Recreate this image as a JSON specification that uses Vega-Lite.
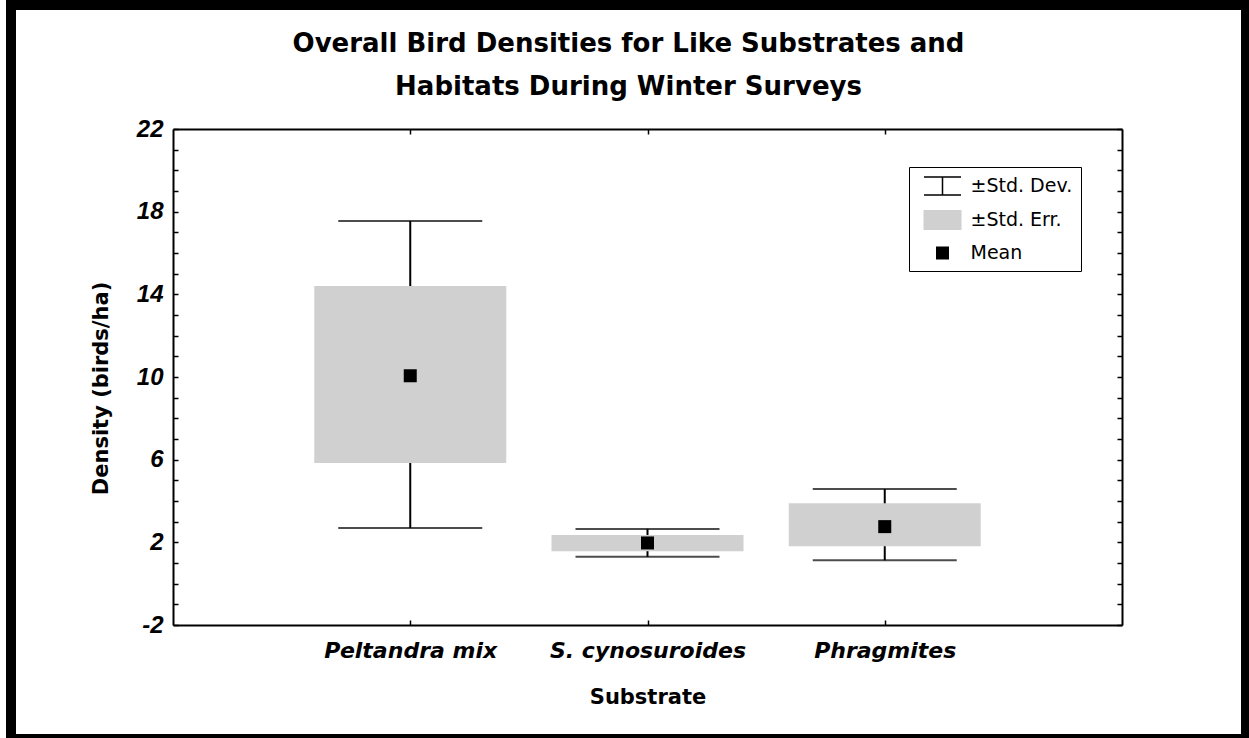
{
  "$schema": "https://vega.github.io/schema/vega-lite/v6.json",
  "width": 1235,
  "height": 734,
  "autosize": {"type": "none"},
  "padding": {"left": 11, "top": 5, "right": 3, "bottom": 0},
  "background": "white",
  "config": {
    "view": {"stroke": "black", "strokeWidth": 10, "fill": "white"},
    "font": "DejaVu Sans"
  },
  "title": {
    "text": ["Overall Bird Densities for Like Substrates and", "Habitats During Winter Surveys"],
    "font": "DejaVu Sans",
    "fontSize": 26,
    "fontWeight": "bold",
    "lineHeight": 43,
    "anchor": "middle",
    "frame": "group",
    "offset": -95,
    "color": "black"
  },
  "data": {
    "values": [
      {"substrate": "Peltandra mix", "mean": 10.06, "seLow": 5.84, "seHigh": 14.40, "sdLow": 2.69, "sdHigh": 17.55},
      {"substrate": "S. cynosuroides", "mean": 1.97, "seLow": 1.57, "seHigh": 2.36, "sdLow": 1.30, "sdHigh": 2.65},
      {"substrate": "Phragmites", "mean": 2.76, "seLow": 1.81, "seHigh": 3.89, "sdLow": 1.13, "sdHigh": 4.58}
    ]
  },
  "layer": [
    {
      "mark": {"type": "rule", "stroke": "black", "strokeWidth": 2},
      "encoding": {
        "x": {
          "field": "substrate", "type": "nominal", "sort": null,
          "scale": {"type": "point", "range": [162, 1111], "padding": 1},
          "axis": {
            "orient": "bottom", "offset": -114, "tickSize": -5, "tickColor": "black", "tickWidth": 1.5,
            "domainColor": "black", "domainWidth": 2, "labelAngle": 0, "labelLimit": 400,
            "labelFont": "DejaVu Sans", "labelFontSize": 22, "labelFontWeight": "bold", "labelFontStyle": "italic",
            "labelColor": "black", "labelPadding": 20,
            "title": "Substrate", "titleFont": "DejaVu Sans", "titleFontSize": 21, "titleFontWeight": "bold",
            "titleColor": "black", "titlePadding": 25, "grid": false
          }
        },
        "y": {
          "field": "sdLow", "type": "quantitative",
          "scale": {"domain": [-2, 22], "range": [620, 124], "nice": false, "zero": false},
          "axis": {
            "orient": "left", "offset": -162,
            "values": [-2, -1, 0, 1, 2, 3, 4, 5, 6, 7, 8, 9, 10, 11, 12, 13, 14, 15, 16, 17, 18, 19, 20, 21, 22],
            "labelExpr": "(datum.value + 2) % 4 == 0 ? '' + datum.value : ''",
            "tickSize": -5, "tickColor": "black", "tickWidth": 1.5,
            "domainColor": "black", "domainWidth": 2,
            "labelFont": "Liberation Sans", "labelFontSize": 24, "labelFontWeight": "bold", "labelFontStyle": "italic",
            "labelColor": "black", "labelPadding": 15, "labelOverlap": false,
            "title": "Density (birds/ha)", "titleFont": "DejaVu Sans", "titleFontSize": 21, "titleFontWeight": "bold",
            "titleColor": "black", "titleX": -62, "titleY": 383, "titleAngle": -90, "titleBaseline": "bottom", "titleAlign": "center", "grid": false
          }
        },
        "y2": {"field": "sdHigh"}
      }
    },
    {
      "mark": {"type": "bar", "color": "#d0d0d0", "width": 192},
      "encoding": {
        "x": {"field": "substrate", "type": "nominal", "sort": null, "axis": null},
        "y": {"field": "seLow", "type": "quantitative", "axis": null},
        "y2": {"field": "seHigh"}
      }
    },
    {
      "mark": {"type": "tick", "color": "black", "size": 144, "thickness": 2, "orient": "horizontal"},
      "encoding": {
        "x": {
          "field": "substrate", "type": "nominal", "sort": null,
          "axis": {"orient": "top", "offset": -124, "labels": false, "title": null, "tickSize": -5,
                   "tickColor": "black", "tickWidth": 1.5, "domainColor": "black", "domainWidth": 2, "grid": false}
        },
        "y": {
          "field": "sdLow", "type": "quantitative",
          "axis": {"orient": "right", "offset": -124, "labels": false, "title": null,
                   "values": [-2, -1, 0, 1, 2, 3, 4, 5, 6, 7, 8, 9, 10, 11, 12, 13, 14, 15, 16, 17, 18, 19, 20, 21, 22],
                   "tickSize": -5, "tickColor": "black", "tickWidth": 1.5, "domainColor": "black", "domainWidth": 2, "grid": false}
        }
      }
    },
    {
      "mark": {"type": "tick", "color": "black", "size": 144, "thickness": 2, "orient": "horizontal"},
      "encoding": {
        "x": {"field": "substrate", "type": "nominal", "sort": null, "axis": null},
        "y": {"field": "sdHigh", "type": "quantitative", "axis": null}
      }
    },
    {
      "mark": {"type": "point", "shape": "square", "filled": true, "color": "black", "size": 169, "opacity": 1},
      "encoding": {
        "x": {"field": "substrate", "type": "nominal", "sort": null, "axis": null},
        "y": {"field": "mean", "type": "quantitative", "axis": null}
      }
    },
    {
      "data": {"values": [{"item": "±Std. Dev."}, {"item": "±Std. Err."}, {"item": "Mean"}]},
      "transform": [{"filter": "false"}],
      "mark": {"type": "point", "strokeWidth": 2, "opacity": 1},
      "encoding": {
        "shape": {
          "field": "item", "type": "nominal",
          "scale": {"domain": ["±Std. Dev.", "±Std. Err.", "Mean"],
                    "range": ["M-1.85,-0.9H1.85M0,-0.9V0.9M-1.85,0.9H1.85", "M-1.9,-1H1.9V1H-1.9Z", "M-0.65,-0.65H0.65V0.65H-0.65Z"]},
          "legend": {"title": null, "orient": "none", "legendX": 898, "legendY": 162, "padding": 8,
                     "fillColor": "white", "strokeColor": "black", "symbolSize": 400, "symbolStrokeWidth": 1.5,
                     "symbolOffset": 14.5, "labelOffset": 17, "rowPadding": 9,
                     "labelFont": "DejaVu Sans", "labelFontSize": 19, "labelColor": "black", "symbolOpacity": 1}
        },
        "fill": {
          "field": "item", "type": "nominal",
          "scale": {"domain": ["±Std. Dev.", "±Std. Err.", "Mean"], "range": ["transparent", "#d0d0d0", "black"]},
          "legend": {"title": null, "orient": "none", "legendX": 898, "legendY": 162, "padding": 8,
                     "fillColor": "white", "strokeColor": "black", "symbolSize": 400, "symbolStrokeWidth": 1.5,
                     "symbolOffset": 14.5, "labelOffset": 17, "rowPadding": 9,
                     "labelFont": "DejaVu Sans", "labelFontSize": 19, "labelColor": "black", "symbolOpacity": 1}
        },
        "stroke": {
          "field": "item", "type": "nominal",
          "scale": {"domain": ["±Std. Dev.", "±Std. Err.", "Mean"], "range": ["black", "transparent", "transparent"]},
          "legend": {"title": null, "orient": "none", "legendX": 898, "legendY": 162, "padding": 8,
                     "fillColor": "white", "strokeColor": "black", "symbolSize": 400, "symbolStrokeWidth": 1.5,
                     "symbolOffset": 14.5, "labelOffset": 17, "rowPadding": 9,
                     "labelFont": "DejaVu Sans", "labelFontSize": 19, "labelColor": "black", "symbolOpacity": 1}
        }
      }
    }
  ],
  "resolve": {"axis": {"x": "independent", "y": "independent"}}
}
